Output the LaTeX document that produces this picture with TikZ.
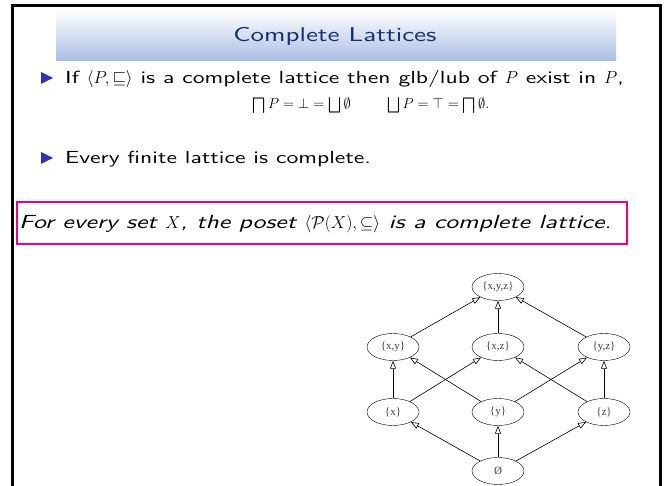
\documentclass[tikz,border=0pt]{standalone}
\usepackage{amsmath,amssymb}
\usepackage{graphicx}
\usepackage{fontspec}
\newfontfamily\dotfont{Liberation Serif}
\newfontfamily\slidesans{lmsans10-regular.otf}[ItalicFont=lmsans10-oblique.otf, FakeStretch=1.35]
\usetikzlibrary{arrows.meta,shapes.geometric}

\definecolor{itemblue}{rgb}{0.2,0.2,0.7}
\definecolor{titleblue}{RGB}{25,45,110}
\definecolor{bannerblue}{RGB}{170,190,228}

\newcommand{\bigmeet}{\mathop{\rotatebox[origin=c]{180}{$\bigsqcup$}}}

\tikzset{
  setnode/.style={draw, ellipse, minimum width=52pt, minimum height=27pt,
    inner sep=0pt, text=black!75, font=\dotfont\fontsize{11}{11}\selectfont},
  hasse/.style={-{Triangle[open,length=8pt,width=6pt]}, line width=.6pt},
  body/.style={anchor=base west, inner sep=0pt,
    font=\slidesans\fontsize{17.5}{20}\selectfont}
}

\begin{document}
\begin{tikzpicture}[x=1pt,y=-1pt]
    \useasboundingbox (0,0) rectangle (667,486);
    % frame and title bar
    \draw[line width=3pt] (12,486) -- (12,6) -- (660,6) -- (660,486);
    \shade[top color=white, bottom color=bannerblue] (56,10) rectangle (616,61);
    \node[anchor=base, inner sep=0pt, text=titleblue,
      font=\slidesans\fontsize{20}{22}\selectfont] (title) at (335,42) {Complete Lattices};

    % items
    \foreach \y in {78,158}
    \fill[itemblue] (41,\y-6) -- (53,\y) -- (41,\y+6) -- cycle;
    \node[body] (glb) at (65,84)
      {If $\langle P,\sqsubseteq\rangle$ is a complete lattice then glb/lub of $P$ exist in $P$,};
    \node[anchor=base, inner sep=0pt, font=\fontsize{15.5}{18}\selectfont] (laws) at (371,109)
      {$\bigmeet P=\bot=\bigsqcup\emptyset \hspace{34pt} \bigsqcup P=\top=\bigmeet\emptyset.$};
    \node[body] (finite) at (65,164) {Every finite lattice is complete.};

    % the claim
    \draw[magenta, line width=2pt] (17,202) rectangle (627,244);
    \node[body, font=\slidesans\itshape\fontsize{19}{22}\selectfont] (claim) at (19,229)
      {For every set $X$, the poset $\langle\mathcal{P}(X),\subseteq\rangle$ is a complete lattice.};

    % Hasse diagram of P({x,y,z})
    \node[setnode] (top) at (498,287) {\{x,y,z\}};
    \node[setnode] (xy) at (393,347) {\{x,y\}};
    \node[setnode] (xz) at (498,347) {\{x,z\}};
    \node[setnode] (yz) at (604,347) {\{y,z\}};
    \node[setnode] (sx) at (393,412) {\{x\}};
    \node[setnode] (sy) at (498,412) {\{y\}};
    \node[setnode] (sz) at (604,412) {\{z\}};
    \node[setnode] (bot) at (498,471) {Ø};
    \foreach \a/\b in {bot/sx,bot/sy,bot/sz,sx/xy,sx/xz,sy/xy,sy/yz,sz/xz,sz/yz,xy/top,xz/top,yz/top}
    \draw[hasse] (\a) -- (\b);
  \end{tikzpicture}
\end{document}
